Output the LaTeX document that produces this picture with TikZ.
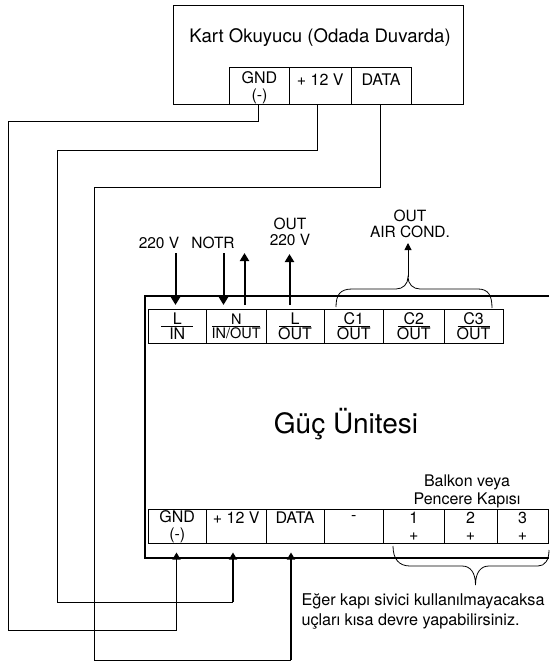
\documentclass[tikz,border=0pt]{standalone}
\usepackage{amsmath}
\usepackage{fontspec}
\setmainfont{TeX Gyre Heros}
\usetikzlibrary{arrows.meta}

\newcommand{\termfrac}[3][32pt]{\ensuremath{\genfrac{}{}{0.6pt}{}{\makebox[#1]{#2}}{\makebox[#1]{#3}}}}
\newcommand{\topline}{\rule{0pt}{16.5pt}}

\tikzset{
    terminal/.style={draw,line width=0.9pt,minimum height=34pt,inner sep=0pt,outer sep=0pt,align=center,font=\fontsize{16}{17}\selectfont},
    readerterm/.style={terminal,minimum height=37pt},
    txt/.style={inner sep=0pt,align=center,font=\fontsize{15.5}{16.5}\selectfont},
    wire/.style={line width=1pt},
    feed/.style={line width=2pt,-{Stealth[length=8pt,width=9pt,inset=0pt]}},
    inwire/.style={line width=1.4pt,-{Stealth[length=7pt,width=8pt,inset=0pt]},shorten >=9pt},
    brace/.style={line width=0.8pt}
}

\begin{document}
\begin{tikzpicture}[x=1pt,y=1pt,yscale=-1,xscale=1]
        \useasboundingbox (0,0) rectangle (549,661);

        % kart okuyucu
        \node [draw,line width=0.9pt,minimum width=290pt,minimum height=99pt,outer sep=0pt] (reader) at (318,54.5) {};
        \node [txt,font=\fontsize{18.6}{20}\selectfont] (readertitle) at (320,38) {Kart Okuyucu (Odada Duvarda)};
        \node [readerterm,minimum width=60pt] (rgnd) at (259.5,85.5) {\topline GND\\(-)};
        \node [readerterm,minimum width=61.5pt] (rvcc) at (320.25,85.5) {\topline + 12 V\\~};
        \node [readerterm,minimum width=60pt] (rdata) at (381,85.5) {\topline DATA\\~};

        % guc unitesi
        \draw [line width=2pt] (549,296) -- (145,296) -- (145,558) -- (549,558);
        \node [inner sep=0pt,font=\fontsize{28}{30}\selectfont] (unittitle) at (346,424) {Güç Ünitesi};

        \node [terminal,minimum width=58.5pt] (tl) at (177.25,326) {\termfrac{L}{IN}};
        \node [terminal,minimum width=59.5pt] (tn) at (236.25,326) {\fontsize{14.5}{16}\selectfont\termfrac[48pt]{N}{IN/OUT}};
        \node [terminal,minimum width=58pt] (tlo) at (295,326) {\termfrac{L}{OUT}};
        \node [terminal,minimum width=59.5pt] (tc1) at (353.75,326) {\termfrac{C1}{OUT}};
        \node [terminal,minimum width=60.5pt] (tc2) at (413.75,326) {\termfrac{C2}{OUT}};
        \node [terminal,minimum width=59pt] (tc3) at (473.5,326) {\termfrac{C3}{OUT}};

        \node [terminal,minimum width=58.5pt] (bgnd) at (177.25,526.5) {GND\\(-)};
        \node [terminal,minimum width=59.5pt] (bvcc) at (236.25,526.5) {+ 12 V\\~};
        \node [terminal,minimum width=58pt] (bdata) at (295,526.5) {DATA\\~};
        \node [terminal,minimum width=59.5pt] (bminus) at (353.75,526.5) {-\\~};
        \node [terminal,minimum width=60.5pt] (b1) at (413.75,526.5) {1\\+};
        \node [terminal,minimum width=53pt] (b2) at (470.5,526.5) {2\\+};
        \node [terminal,minimum width=51pt] (b3) at (522.5,526.5) {3\\+};

        % yazilar
        \node [txt] (lbl220) at (159,243) {220 V};
        \node [txt] (lblnotr) at (213,243) {NOTR};
        \node [txt] (lblout) at (290,232) {OUT\\220 V};
        \node [txt] (lblair) at (410,224) {OUT\\AIR COND.};
        \node [txt,font=\fontsize{16}{18}\selectfont] (lbldoor) at (467,491.5) {Balkon veya\\Pencere Kapısı};
        \node [txt,align=left,font=\fontsize{16.2}{20}\selectfont] (lblshort) at (423,611) {Eğer kapı sivici kullanılmayacaksa\\uçları kısa devre yapabilirsiniz.};

        % guc oklari
        \coordinate (a220) at (175.5,253);
        \coordinate (anotr) at (223.5,253);
        \coordinate (aback) at (244.5,253);
        \coordinate (aout) at (289.5,254);
        \coordinate (abrace) at (408,277);
        \draw [feed,shorten >=4pt] (a220) -- (a220 |- tl.north);
        \draw [feed,shorten >=4pt] (anotr) -- (anotr |- tn.north);
        \draw [feed,shorten <=4pt] (aback |- tn.north) -- (aback);
        \draw [feed,shorten <=4pt] (aout |- tlo.north) -- (aout);
        \draw [wire,-{Stealth[length=7pt,width=7pt,inset=0pt]}] (abrace) -- (408,243);

        % ayraclar
        \draw [brace] (336,307) .. controls (336,295) and (340,289) .. (352,289) -- (396,289) .. controls (403,289) and (408,284) .. (abrace) .. controls (408,284) and (413,289) .. (420,289) -- (478,289) .. controls (488,289) and (492,295) .. (492,308);
        \draw [brace] (393,546) .. controls (393,559) and (399,566) .. (410,566) -- (462,566) .. controls (470,566) and (475.5,572) .. (475.5,585) .. controls (475.5,572) and (481,566) .. (489,566) -- (538,566) .. controls (545,566) and (549,560) .. (549,550);

        % kablolar
        \coordinate (gnda) at (258,121);
        \coordinate (gndb) at (8,121);
        \coordinate (gndc) at (8,630);
        \coordinate (gndd) at (176.5,630);
        \coordinate (vcca) at (317,150);
        \coordinate (vccb) at (57,150);
        \coordinate (vccc) at (57,602);
        \coordinate (vccd) at (233,602);
        \coordinate (dataa) at (380,187);
        \coordinate (datab) at (94.5,187);
        \coordinate (datac) at (94.5,660);
        \coordinate (datad) at (291,660);
        \draw [wire] (gnda |- rgnd.south) -- (gnda) -- (gndb) -- (gndc) -- (gndd);
        \draw [inwire] (gndd) -- (gndd |- bgnd.south);
        \draw [wire] (vcca |- rvcc.south) -- (vcca) -- (vccb) -- (vccc) -- (vccd);
        \draw [inwire] (vccd) -- (vccd |- bvcc.south);
        \draw [wire] (dataa |- rdata.south) -- (dataa) -- (datab) -- (datac) -- (datad);
        \draw [inwire] (datad) -- (datad |- bdata.south);
\end{tikzpicture}
\end{document}
